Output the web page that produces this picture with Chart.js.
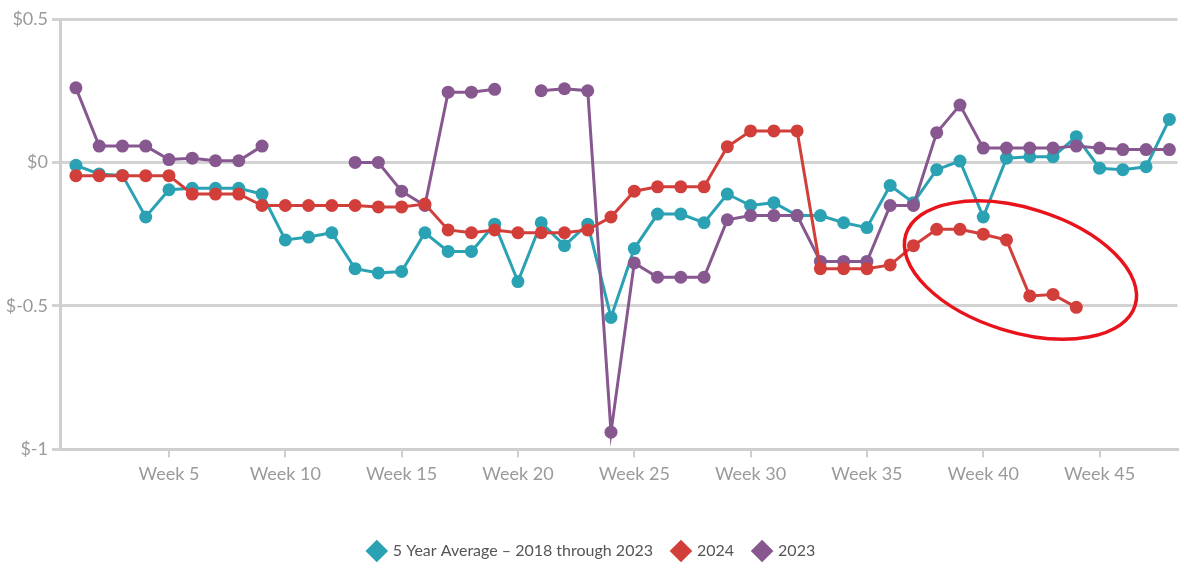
<!DOCTYPE html>
<html>
<head>
<meta charset="utf-8">
<script src="https://cdn.jsdelivr.net/npm/chart.js@4/dist/chart.umd.min.js"></script>
<style>
  html, body { margin: 0; padding: 0; background: #fff; }
  #wrap { width: 1184px; height: 573px; position: relative; }
</style>
</head>
<body>
<div id="wrap"><canvas id="chart"></canvas></div>
<script>
'use strict';

// ── Datos ────────────────────────────────────
const weeks = Array.from({ length: 48 }, (_, i) => i + 1);

const avg5Year = [
  -0.01, -0.04, -0.045, -0.19, -0.095, -0.09, -0.09, -0.09, -0.11, -0.27,
  -0.26, -0.245, -0.37, -0.385, -0.38, -0.245, -0.31, -0.31, -0.215, -0.415,
  -0.21, -0.29, -0.215, -0.54, -0.30, -0.18, -0.18, -0.21, -0.11, -0.15,
  -0.14, -0.185, -0.185, -0.21, -0.227, -0.08, -0.14, -0.025, 0.005, -0.19,
  0.015, 0.02, 0.02, 0.09, -0.02, -0.025, -0.015, 0.15
];

const y2024 = [
  -0.046, -0.046, -0.046, -0.046, -0.046, -0.11, -0.11, -0.11, -0.15, -0.15,
  -0.15, -0.15, -0.15, -0.155, -0.155, -0.145, -0.235, -0.245, -0.235, -0.245,
  -0.245, -0.245, -0.235, -0.19, -0.10, -0.085, -0.085, -0.085, 0.055, 0.11,
  0.11, 0.11, -0.37, -0.37, -0.37, -0.357, -0.29, -0.233, -0.233, -0.25,
  -0.27, -0.465, -0.46, -0.505, null, null, null, null
];

const y2023 = [
  0.26, 0.057, 0.057, 0.057, 0.01, 0.015, 0.006, 0.006, 0.057, null,
  null, null, 0.0, 0.0, -0.10, -0.15, 0.245, 0.245, 0.255, null,
  0.25, 0.257, 0.25, -0.94, -0.35, -0.40, -0.40, -0.40, -0.20, -0.185,
  -0.185, -0.185, -0.345, -0.345, -0.345, -0.15, -0.15, 0.104, 0.20, 0.05,
  0.05, 0.05, 0.05, 0.057, 0.05, 0.045, 0.045, 0.045
];

const weekTicks = [5, 10, 15, 20, 25, 30, 35, 40, 45];
const yTicks = [-1, -0.5, 0, 0.5];

const seriesLabels = ['5 Year Average – 2018 through 2023', '2024', '2023'];
const seriesColors = ['#2ba2b3', '#d23f3b', '#87578f'];
const legendOrder = [2, 0, 1]; // índices de dataset: promedio, 2024, 2023

// elipse roja de anotación (centro en semana / valor)
const ellipseCenter = { week: 41.6, value: -0.375 };

const toPoints = arr => arr.map((v, i) => ({ x: weeks[i], y: v }));

const ellipsePlugin = {
  id: 'ellipseNote',
  afterDatasetsDraw(chart) {
    const { ctx, scales } = chart;
    const cx = scales.x.getPixelForValue(ellipseCenter.week);
    const cy = scales.y.getPixelForValue(ellipseCenter.value);
    ctx.save();
    ctx.beginPath();
    ctx.ellipse(cx, cy, 120, 62, 0.3, 0, Math.PI * 2);
    ctx.strokeStyle = '#e8131b';
    ctx.lineWidth = 3.5;
    ctx.stroke();
    ctx.restore();
  }
};

function dataset(i, values) {
  return {
    label: seriesLabels[i],
    data: toPoints(values),
    borderColor: seriesColors[i],
    backgroundColor: seriesColors[i],
    borderWidth: 3,
    pointRadius: 6.5,
    pointHoverRadius: 6.5,
    pointBorderWidth: 0,
    spanGaps: false,
    tension: 0
  };
}

Chart.defaults.font.family = 'Lato, "Noto Sans", sans-serif';

new Chart(document.getElementById('chart'), {
  type: 'line',
  data: {
    datasets: [dataset(1, y2024), dataset(2, y2023), dataset(0, avg5Year)]
  },
  options: {
    responsive: true,
    maintainAspectRatio: false,
    animation: false,
    layout: { padding: { top: 19, right: 0, left: 0, bottom: 4 } },
    plugins: {
      legend: {
        position: 'bottom',
        labels: {
          usePointStyle: true,
          pointStyle: 'rectRot',
          boxWidth: 18,
          boxHeight: 18,
          padding: 20,
          color: '#555',
          font: { size: 16 },
          sort: (a, b) => legendOrder.indexOf(a.datasetIndex) - legendOrder.indexOf(b.datasetIndex)
        }
      },
      tooltip: { enabled: false }
    },
    scales: {
      x: {
        type: 'linear',
        min: 0.316,
        max: 48.35,
        afterBuildTicks: axis => { axis.ticks = weekTicks.map(v => ({ value: v })); },
        afterFit: axis => { axis.height += 32; },
        ticks: {
          color: '#9a9a9a',
          font: { size: 18 },
          padding: 6,
          maxRotation: 0,
          callback: v => 'Week ' + v
        },
        grid: { drawOnChartArea: false, color: '#cfcfcf', lineWidth: 2, tickLength: 8 },
        border: { color: '#cfcfcf', width: 3 }
      },
      y: {
        min: -1,
        max: 0.5,
        afterBuildTicks: axis => { axis.ticks = yTicks.map(v => ({ value: v })); },
        afterFit: axis => { axis.width = 60; },
        ticks: {
          color: '#9a9a9a',
          font: { size: 18 },
          padding: 4,
          callback: v => '$' + v
        },
        grid: { color: '#d3d3d3', lineWidth: 3, tickLength: 8 },
        border: { color: '#cfcfcf', width: 3 }
      }
    }
  },
  plugins: [ellipsePlugin]
});
</script>
</body>
</html>
